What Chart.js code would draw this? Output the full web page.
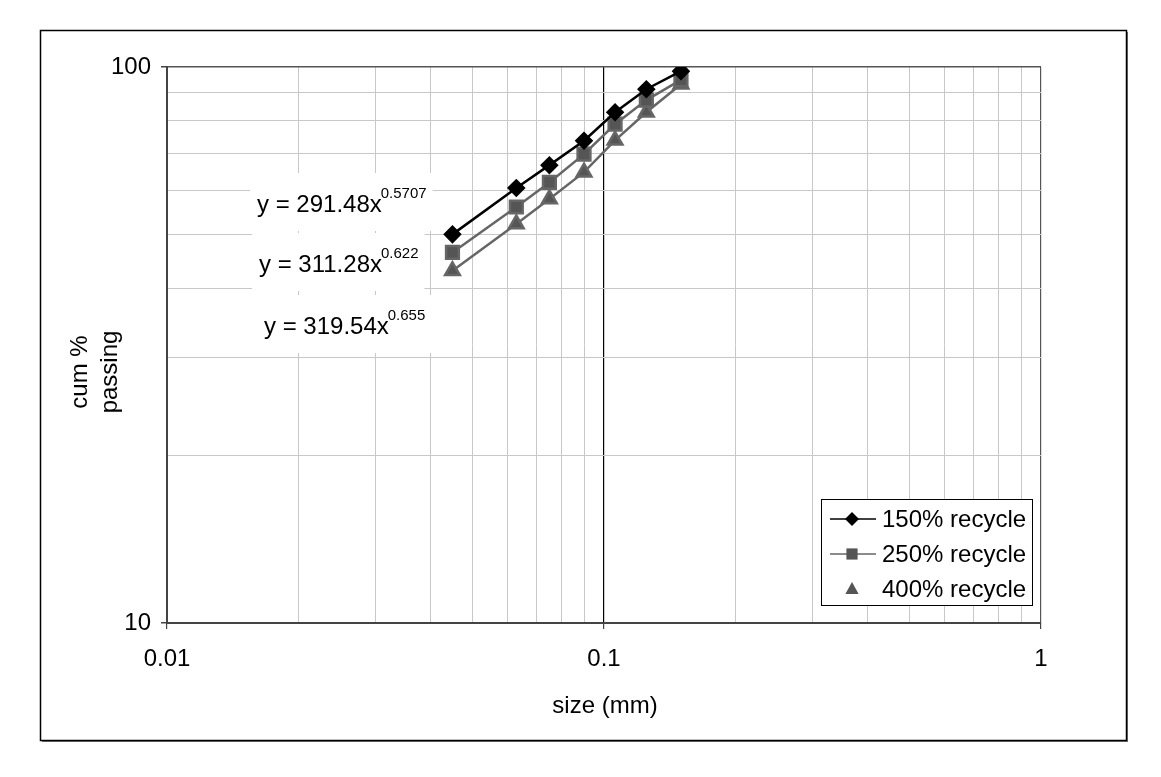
<!DOCTYPE html>
<html>
<head>
<meta charset="utf-8">
<script src="https://cdn.jsdelivr.net/npm/chart.js@4"></script>
<style>
  html, body { margin: 0; padding: 0; background: #fff; }
  canvas { display: block; }
</style>
</head>
<body>
<canvas id="psd" width="1161" height="777"></canvas>
<script>
// sieve sizes (mm) and cumulative % passing
const sizes = [0.045, 0.063, 0.075, 0.09, 0.106, 0.125, 0.15];
const pass150 = [50.0, 60.6, 66.6, 73.7, 82.9, 91.2, 98.3];
const pass250 = [46.4, 56.0, 62.0, 69.7, 78.9, 87.2, 94.8];
const pass400 = [43.0, 52.2, 57.9, 64.7, 73.8, 82.9, 93.1];
const seriesNames = ['150% recycle', '250% recycle', '400% recycle'];
const trendLabels = [
    { base: 'y = 291.48x', exp: '0.5707' },
    { base: 'y = 311.28x', exp: '0.622' },
    { base: 'y = 319.54x', exp: '0.655' }
];
// grid positions (1-2-...-9 per decade) and the labelled ones
const xGrid = [0.01, 0.02, 0.03, 0.04, 0.05, 0.06, 0.07, 0.08, 0.09,
               0.1, 0.2, 0.3, 0.4, 0.5, 0.6, 0.7, 0.8, 0.9, 1];
const yGrid = [10, 20, 30, 40, 50, 60, 70, 80, 90, 100];
const xTickLabels = ['0.01', '0.1', '1'];
const yTickLabels = ['10', '100'];

const FONT = "'Liberation Sans', Arial, sans-serif";
const toPts = ys => sizes.map((s, i) => ({ x: s, y: ys[i] }));
const isDecade = v => Math.abs(Math.log10(v) - Math.round(Math.log10(v))) < 1e-6;
const fmt = v => Number(v.toPrecision(6)).toString();

// marker helpers (used for the hand drawn legend)
function drawMarker(ctx, style, x, y, r, color) {
    ctx.save();
    ctx.fillStyle = color;
    ctx.beginPath();
    if (style === 'rectRot') {
        ctx.moveTo(x, y - r); ctx.lineTo(x + r, y); ctx.lineTo(x, y + r); ctx.lineTo(x - r, y);
    } else if (style === 'rect') {
        ctx.rect(x - r * 0.8, y - r * 0.8, r * 1.6, r * 1.6);
    } else {
        ctx.moveTo(x, y - r); ctx.lineTo(x + r * 0.95, y + r * 0.7); ctx.lineTo(x - r * 0.95, y + r * 0.7);
    }
    ctx.closePath();
    ctx.fill();
    ctx.restore();
}

const decorPlugin = {
    id: 'decor',
    beforeDraw(chart) {
        const ctx = chart.ctx;
        ctx.save();
        ctx.fillStyle = '#fff';
        ctx.fillRect(0, 0, chart.width, chart.height);
        // outer frame with a slight shadow
        ctx.fillStyle = '#777';
        ctx.fillRect(42, 740, 1086, 2);
        ctx.fillRect(1126, 32, 2, 710);
        ctx.strokeStyle = '#000';
        ctx.lineWidth = 1.5;
        ctx.strokeRect(40.5, 30.5, 1086, 710);
        ctx.restore();
    },
    afterDraw(chart) {
        const ctx = chart.ctx;
        ctx.save();
        ctx.fillStyle = '#000';
        ctx.textBaseline = 'middle';

        // trendline equations on white boxes
        const eqPos = [[257, 205], [259, 265], [264, 327]];
        trendLabels.forEach((t, i) => {
            const [x, y] = eqPos[i];
            ctx.font = '24px ' + FONT;
            const w = ctx.measureText(t.base).width;
            ctx.font = '15px ' + FONT;
            const we = ctx.measureText(t.exp).width;
            ctx.fillStyle = '#fff';
            ctx.fillRect(x - 7, y - 32, w + we + 12, 58);
            ctx.fillStyle = '#000';
            ctx.font = '24px ' + FONT;
            ctx.textAlign = 'left';
            ctx.fillText(t.base, x, y);
            ctx.font = '15px ' + FONT;
            ctx.fillText(t.exp, x + w - 1, y - 11);
        });

        // legend
        ctx.fillStyle = '#fff';
        ctx.fillRect(821, 499, 211, 106);
        ctx.strokeStyle = '#000';
        ctx.lineWidth = 1;
        ctx.strokeRect(821.5, 499.5, 211, 106);
        const legRows = [519, 554, 589];
        const legStyles = [
            { line: '#000', marker: 'rectRot', color: '#000' },
            { line: '#666', marker: 'rect', color: '#555' },
            { line: null, marker: 'triangle', color: '#555' }
        ];
        legRows.forEach((ly, i) => {
            const st = legStyles[i];
            if (st.line) {
                ctx.strokeStyle = st.line;
                ctx.lineWidth = 1.5;
                ctx.beginPath();
                ctx.moveTo(830, ly); ctx.lineTo(876, ly);
                ctx.stroke();
            }
            drawMarker(ctx, st.marker, 852, ly, 7, st.color);
            ctx.fillStyle = '#000';
            ctx.font = '24px ' + FONT;
            ctx.textAlign = 'left';
            ctx.fillText(seriesNames[i], 882, ly + 1);
        });

        // axis titles
        ctx.font = '24px ' + FONT;
        ctx.textAlign = 'center';
        ctx.fillText('size (mm)', 605, 706);
        ctx.save();
        ctx.translate(80, 372);
        ctx.rotate(-Math.PI / 2);
        ctx.fillText('cum %', 0, 0);
        ctx.restore();
        ctx.save();
        ctx.translate(110, 372);
        ctx.rotate(-Math.PI / 2);
        ctx.fillText('passing', 0, 0);
        ctx.restore();
        ctx.restore();
    }
};

const ctx = document.getElementById('psd').getContext('2d');
new Chart(ctx, {
    type: 'scatter',
    data: {
        datasets: [
            {
                label: seriesNames[0], data: toPts(pass150), showLine: true,
                borderColor: '#000', backgroundColor: '#000', borderWidth: 2.5,
                pointStyle: 'rectRot', pointRadius: 7.5, pointHoverRadius: 7.5
            },
            {
                label: seriesNames[1], data: toPts(pass250), showLine: true,
                borderColor: '#666', backgroundColor: '#555', borderWidth: 2.5,
                pointStyle: 'rect', pointRadius: 9, pointHoverRadius: 9
            },
            {
                label: seriesNames[2], data: toPts(pass400), showLine: true,
                borderColor: '#666', backgroundColor: '#555', borderWidth: 2.5,
                pointStyle: 'triangle', pointRadius: 8.5, pointHoverRadius: 8.5
            }
        ]
    },
    options: {
        responsive: false,
        animation: false,
        layout: { padding: { top: 67, right: 120, left: 0, bottom: 0 } },
        plugins: { legend: { display: false }, tooltip: { enabled: false } },
        scales: {
            x: {
                type: 'logarithmic', min: 0.01, max: 1,
                afterFit: s => { s.height = 154; },
                afterBuildTicks: s => { s.ticks = xGrid.map(v => ({ value: v })); },
                border: { color: '#444', width: 2 },
                grid: {
                    color: c => {
                        const v = c.tick.value;
                        if (Math.abs(v - 1) < 1e-9) return '#555';
                        return isDecade(v) ? '#000' : '#c8c8c8';
                    },
                    lineWidth: c => (isDecade(c.tick.value) ? 1.2 : 1),
                    tickColor: c => (isDecade(c.tick.value) ? '#444' : 'rgba(0,0,0,0)'),
                    tickLength: 6
                },
                ticks: {
                    autoSkip: false, maxRotation: 0, padding: 16,
                    color: '#000', font: { family: FONT, size: 24 },
                    callback: v => (xTickLabels.includes(fmt(v)) ? fmt(v) : '')
                }
            },
            y: {
                type: 'logarithmic', min: 10, max: 100,
                afterFit: s => { s.width = 167; },
                afterBuildTicks: s => { s.ticks = yGrid.map(v => ({ value: v })); },
                border: { color: '#444', width: 2 },
                grid: {
                    color: c => (isDecade(c.tick.value) ? '#555' : '#c8c8c8'),
                    lineWidth: c => (isDecade(c.tick.value) ? 1.5 : 1),
                    tickColor: c => (isDecade(c.tick.value) ? '#444' : 'rgba(0,0,0,0)'),
                    tickLength: 6
                },
                ticks: {
                    autoSkip: false, padding: 10,
                    color: '#000', font: { family: FONT, size: 24 },
                    callback: v => (yTickLabels.includes(fmt(v)) ? fmt(v) : '')
                }
            }
        }
    },
    plugins: [decorPlugin]
});
</script>
</body>
</html>
